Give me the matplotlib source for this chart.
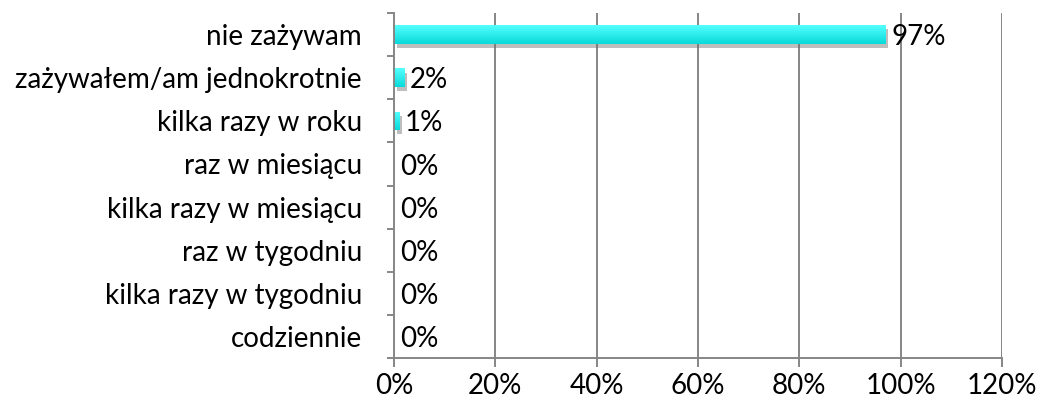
import matplotlib
matplotlib.use("Agg")
import matplotlib.pyplot as plt
import numpy as np
from matplotlib import patheffects as pe
from matplotlib.colors import LinearSegmentedColormap
from matplotlib.transforms import offset_copy

categories = ["nie zażywam", "zażywałem/am jednokrotnie", "kilka razy w roku",
              "raz w miesiącu", "kilka razy w miesiącu", "raz w tygodniu",
              "kilka razy w tygodniu", "codziennie"]
values = [97, 2, 1, 0, 0, 0, 0, 0]
labels = ["97%", "2%", "1%", "0%", "0%", "0%", "0%", "0%"]
xticks = [0, 20, 40, 60, 80, 100, 120]
xticklabels = ["0%", "20%", "40%", "60%", "80%", "100%", "120%"]

plt.rcParams['font.family'] = ['Lato', 'DejaVu Sans']
FS = 20
fig = plt.figure(figsize=(10.38, 4.08), dpi=100)
ax = fig.add_axes([394/1038, 1-358/408, (1002-394)/1038, (358-13)/408])

n = len(categories)
ypos = np.arange(n)
grid_c = "#868686"
ax.set_xlim(0, 120)
ax.set_ylim(n - 0.5, -0.5)

for x in xticks[1:]:
    ax.axvline(x, color=grid_c, lw=1.4, zorder=1)

cmap = LinearSegmentedColormap.from_list("cy", ["#55ffff", "#08dada"])
grad = np.linspace(0, 1, 64).reshape(-1, 1)
bars = ax.barh(ypos, values, height=0.43, color="#2ef0f0", zorder=3,
               path_effects=[pe.SimplePatchShadow(offset=(2, -3), shadow_rgbFace="#707070", alpha=0.45),
                             pe.Normal()])
for b, v in zip(bars, values):
    if v <= 0:
        continue
    y0 = b.get_y()
    h = b.get_height()
    im = ax.imshow(grad, cmap=cmap, aspect="auto", extent=(0, v, y0 + h, y0),
                   zorder=4, interpolation="bilinear")
    im.set_clip_path(b)

trans = offset_copy(ax.transData, fig=fig, x=6, y=0, units="dots")
for y, v, lab in zip(ypos, values, labels):
    ax.text(v, y + 0.06, lab, va="center", ha="left", fontsize=FS, color="black",
            zorder=5, transform=trans)

ax.set_yticks(ypos)
ax.set_yticklabels(categories, fontsize=FS)
ax.set_yticks(np.arange(-0.5, n, 1), minor=True)
ax.tick_params(axis="y", which="major", length=0, pad=23)
ax.tick_params(axis="y", which="minor", length=5, width=1.4, color=grid_c, direction="out")
ax.set_xticks(xticks)
ax.set_xticklabels(xticklabels, fontsize=FS)
ax.tick_params(axis="x", length=6.5, width=1.4, color=grid_c, direction="out", pad=4)

for s in ["top", "right"]:
    ax.spines[s].set_visible(False)
for s in ["left", "bottom"]:
    ax.spines[s].set_color(grid_c)
    ax.spines[s].set_linewidth(1.4)
    ax.spines[s].set_zorder(6)

fig.savefig("out.png", dpi=100)
